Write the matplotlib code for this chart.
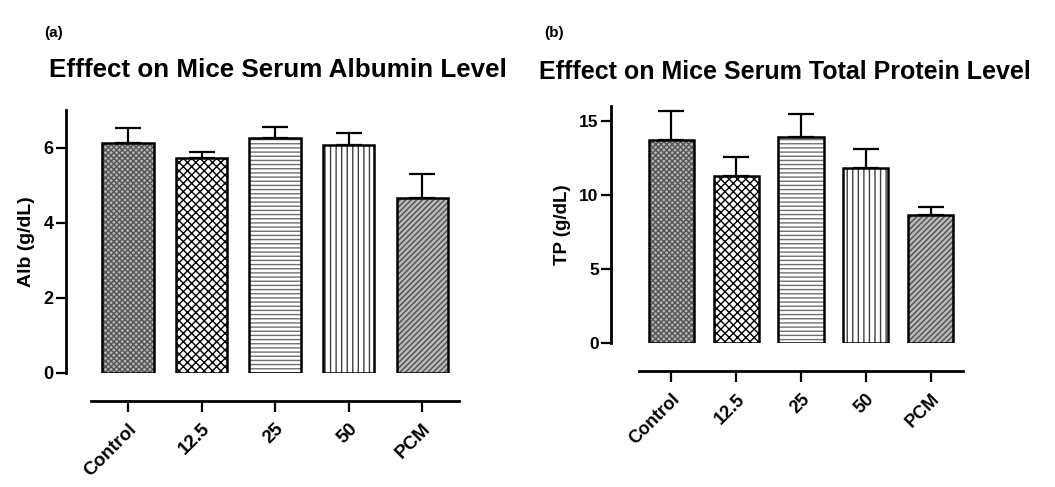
import numpy as np
import matplotlib
matplotlib.use('Agg')
import matplotlib.pyplot as plt

plt.rcParams['font.family'] = ['Liberation Sans', 'DejaVu Sans']
plt.rcParams['font.weight'] = 'bold'
plt.rcParams['hatch.linewidth'] = 1.0

# data
groups = ['Control', '12.5', '25', '50', 'PCM']
alb_mean = [6.13, 5.72, 6.26, 6.06, 4.66]
alb_sem = [0.38, 0.15, 0.29, 0.33, 0.63]
tp_mean = [13.70, 11.30, 13.88, 11.83, 8.65]
tp_sem = [1.95, 1.28, 1.57, 1.26, 0.51]

# fill, hatch colour, hatch for each group
faces = ['#b4b4b4', 'white', 'white', 'white', '#b8b8b8']
hcols = ['#555555', 'black', '#707070', '#404040', '#505050']
hatches = ['xxxxxx', 'xxxx', '----', '|||', '//////']


def panel(ax, means, sems, ylabel, ymax, yticks, offset, fs):
    x = np.arange(len(groups))
    # spines first: moving them resets the tick objects
    for s in ['top', 'right']:
        ax.spines[s].set_visible(False)
    ax.spines['left'].set_position(('outward', offset[0]))
    ax.spines['bottom'].set_position(('outward', offset[1]))
    ax.spines['left'].set_linewidth(2.0)
    ax.spines['bottom'].set_linewidth(2.0)

    for i in range(len(groups)):
        ax.bar(x[i], means[i], width=0.7, color=faces[i], edgecolor=hcols[i],
               hatch=hatches[i], linewidth=0, zorder=2)
    ax.bar(x, means, width=0.7, facecolor='none', edgecolor='black',
           linewidth=1.8, zorder=3)
    ax.errorbar(x, means, yerr=[np.zeros(len(x)), sems], fmt='none',
                ecolor='black', elinewidth=1.6, capsize=9.5, capthick=1.6, zorder=1)
    ax.set_xlim(-0.5, len(groups) - 0.5)
    ax.set_ylim(0, ymax)
    ax.set_yticks(yticks)
    ax.set_yticklabels([str(v) for v in yticks], fontsize=fs, fontweight='bold')
    ax.set_xticks(x)
    ax.set_xticklabels(groups, rotation=45, ha='right', rotation_mode='anchor',
                       fontsize=fs + 0.5, fontweight='bold')
    ax.set_ylabel(ylabel, fontsize=fs + 1, fontweight='bold', labelpad=6)
    ax.tick_params(axis='y', length=7, width=1.6, pad=2)
    ax.tick_params(axis='x', length=8, width=1.6, pad=6)


fig = plt.figure(figsize=(10.55, 4.87), dpi=100)
ax1 = fig.add_axes([0.0865, 0.2341, 0.3486, 0.54])
ax2 = fig.add_axes([0.6057, 0.2951, 0.3071, 0.4874])

panel(ax1, alb_mean, alb_sem, 'Alb (g/dL)', 7, [0, 2, 4, 6], (18, 20), 13)
panel(ax2, tp_mean, tp_sem, 'TP (g/dL)', 16, [0, 5, 10, 15], (20, 20), 12.5)

fig.text(0.263, 0.856, 'Efffect on Mice Serum Albumin Level', ha='center', va='center',
         fontsize=18.7, fontweight='bold')
fig.text(0.744, 0.852, 'Efffect on Mice Serum Total Protein Level', ha='center', va='center',
         fontsize=18, fontweight='bold')
fig.text(0.051, 0.932, '(a)', ha='center', va='center', fontsize=11, fontweight='bold')
fig.text(0.525, 0.932, '(b)', ha='center', va='center', fontsize=11, fontweight='bold')

fig.savefig('out.png', dpi=100)
